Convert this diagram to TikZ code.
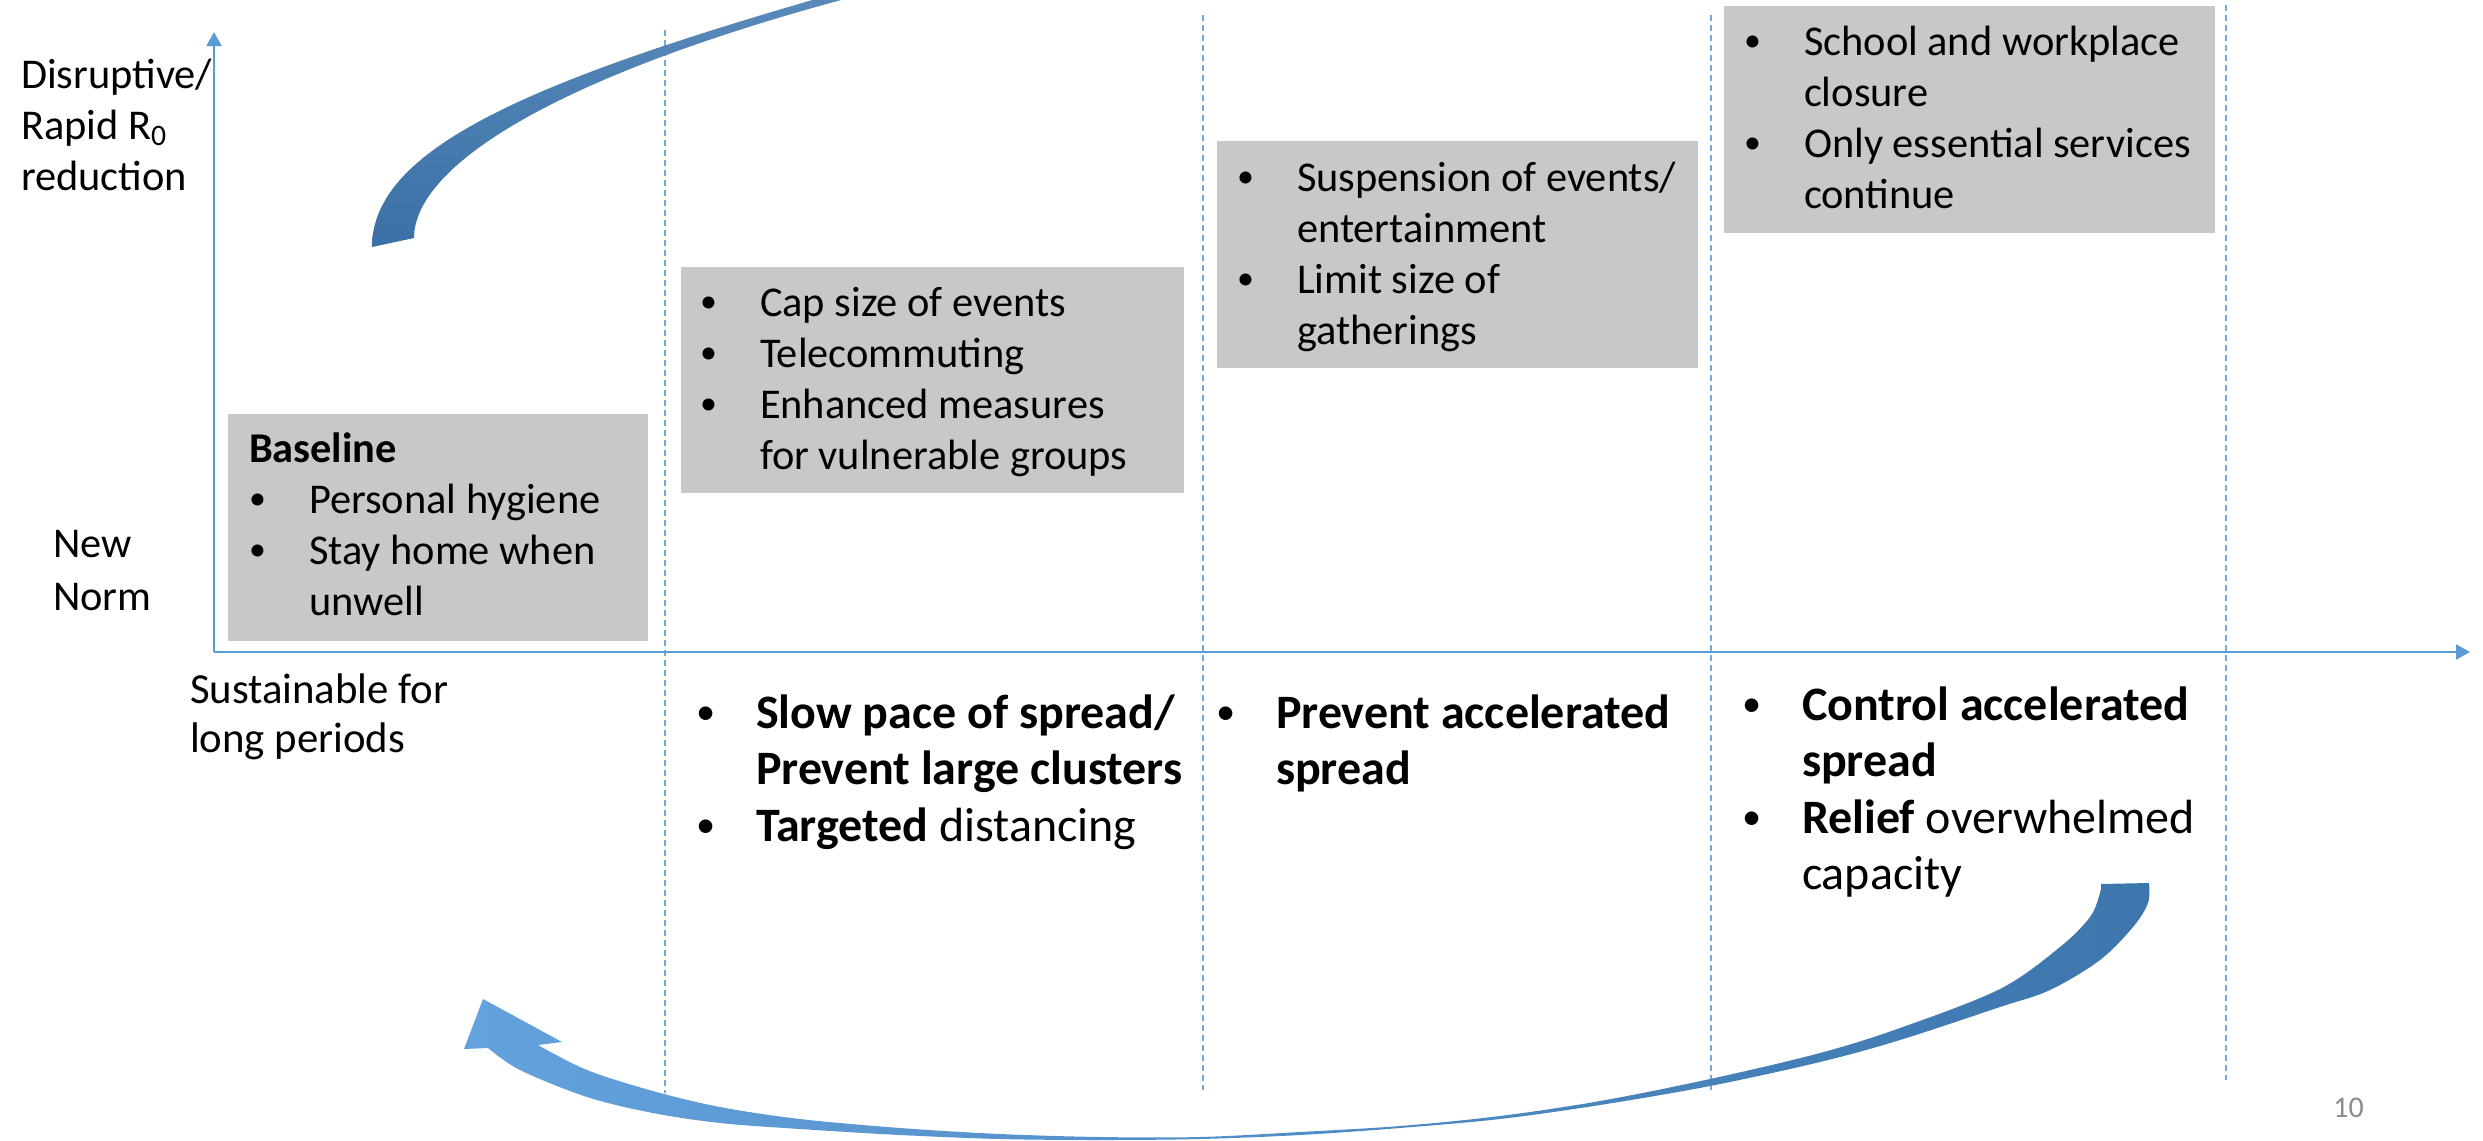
\documentclass[tikz,border=0pt]{standalone}
\usepackage{fontspec}
\usepackage{graphicx}
\setmainfont{Carlito}
\usetikzlibrary{arrows.meta}
\definecolor{axisblue}{HTML}{5B9BD5}
\definecolor{boxgray}{HTML}{C8C8C8}
\definecolor{arrdark}{HTML}{3A70A6}
\definecolor{arrlight}{HTML}{5B8CBB}
\definecolor{botlight}{HTML}{64A2DE}
\definecolor{botdark}{HTML}{3D76AD}
\definecolor{pagegray}{HTML}{8C8C8C}
\newcommand{\bu}{\makebox[30pt][l]{\raisebox{0.15ex}{\scalebox{0.8}{\textbullet}}}}
\newcommand{\ind}{\hspace*{30pt}}
\begin{document}
\begin{tikzpicture}[x=0.5pt,y=-0.5pt,
  graybox/.style={fill=boxgray, draw=none},
  txt/.style={anchor=base west, inner sep=0pt, outer sep=0pt, font=\fontsize{21.2}{25.5}\selectfont},
  bigtxt/.style={anchor=base west, inner sep=0pt, outer sep=0pt, font=\fontsize{24}{28.25}\selectfont},
  axisline/.style={draw=axisblue, line width=1pt, -{Triangle[width=7.5pt,length=7pt]}},
  divider/.style={draw=axisblue!85, line width=0.7pt, dash pattern=on 3pt off 2pt},
]
\useasboundingbox (0,0) rectangle (2483,1140);
\clip (0,0) rectangle (2483,1140);

% gray boxes
\path[graybox] (228,414) rectangle (648,641);
\path[graybox] (681,267) rectangle (1184,493);
\path[graybox] (1217,141) rectangle (1698,368);
\path[graybox] (1724,6) rectangle (2215,233);

% dividers
\coordinate (d1t) at (665,30);  \coordinate (d1b) at (665,1093);
\coordinate (d2t) at (1203,15); \coordinate (d2b) at (1203,1090);
\coordinate (d3t) at (1711,15); \coordinate (d3b) at (1711,1090);
\coordinate (d4t) at (2226,5);  \coordinate (d4b) at (2226,1080);
\draw[divider] (d1t) -- (d1b);
\draw[divider] (d2t) -- (d2b);
\draw[divider] (d3t) -- (d3b);
\draw[divider] (d4t) -- (d4b);

% axes
\coordinate (O) at (214,652);
\coordinate (ytip) at (214,32);
\coordinate (xtip) at (2470,652);
\draw[axisline] (O) -- (ytip);
\draw[axisline] (O) -- (xtip);

% top curved arrow (head outside the picture)
\shade[bottom color=arrdark, top color=arrlight]
  (372,247) .. controls (372,140) and (560,70) .. (900,-25)
  -- (940,-25) .. controls (580,60) and (414,160) .. (414,238) -- cycle;

% bottom curved arrow
\shade[left color=botlight, right color=botdark]
  plot[smooth, tension=0.55] coordinates {(2149,883) (2148,903) (2133,927) (2100,960) (2050,990) (2000,1007) (1900,1040) (1820,1062) (1710,1086) (1600,1105) (1500,1119) (1400,1128) (1300,1135) (1200,1139) (1100,1140) (1000,1139) (900,1135) (800,1129) (720,1123) (653,1113) (587,1097) (520,1070) (488,1048)}
  -- (464,1049) -- (483,999) -- (562,1042)
  -- plot[smooth, tension=0.55] coordinates {(538,1045) (587,1070) (653,1091) (720,1107) (800,1119) (900,1128) (1000,1134) (1100,1137) (1200,1137) (1300,1132) (1400,1126) (1500,1116) (1600,1101) (1710,1079) (1820,1053) (1900,1028) (2000,989) (2060,947) (2090,917) (2100,893) (2101,884)}
  -- cycle;

% axis labels
\node[txt] (ylab) at (21,88) {\begin{tabular}[t]{@{}l@{}}Disruptive/\\Rapid R\textsubscript{0}\\reduction\end{tabular}};
\node[txt, font=\fontsize{21.2}{26.5}\selectfont] (newnorm) at (53,557) {\begin{tabular}[t]{@{}l@{}}New\\Norm\end{tabular}};
\node[txt, font=\fontsize{21.4}{24.5}\selectfont] (sust) at (190,703) {\begin{tabular}[t]{@{}l@{}}Sustainable for\\long periods\end{tabular}};

% box texts
\node[txt] (b1) at (249,462) {\begin{tabular}[t]{@{}l@{}}\textbf{Baseline}\\\bu Personal hygiene\\\bu Stay home when\\\ind unwell\end{tabular}};
\node[txt] (b2) at (700,316) {\begin{tabular}[t]{@{}l@{}}\bu Cap size of events\\\bu Telecommuting\\\bu Enhanced measures\\\ind for vulnerable groups\end{tabular}};
\node[txt] (b3) at (1237,191) {\begin{tabular}[t]{@{}l@{}}\bu Suspension of events/\\\ind entertainment\\\bu Limit size of\\\ind gatherings\end{tabular}};
\node[txt] (b4) at (1744,55) {\begin{tabular}[t]{@{}l@{}}\bu School and workplace\\\ind closure\\\bu Only essential services\\\ind continue\end{tabular}};

% bottom goals
\node[bigtxt] (c1) at (696,728) {\begin{tabular}[t]{@{}l@{}}\bu\textbf{Slow pace of spread/}\\\ind\textbf{Prevent large clusters}\\\bu\textbf{Targeted} distancing\end{tabular}};
\node[bigtxt] (c2) at (1216,728) {\begin{tabular}[t]{@{}l@{}}\bu\textbf{Prevent accelerated}\\\ind\textbf{spread}\end{tabular}};
\node[bigtxt] (c3) at (1742,720) {\begin{tabular}[t]{@{}l@{}}\bu\textbf{Control accelerated}\\\ind\textbf{spread}\\\bu\textbf{Relief} overwhelmed\\\ind capacity\end{tabular}};

% page number
\node[anchor=base west, inner sep=0pt, text=pagegray, font=\fontsize{15}{18}\selectfont] (pg) at (2333,1117) {10};
\end{tikzpicture}
\end{document}
